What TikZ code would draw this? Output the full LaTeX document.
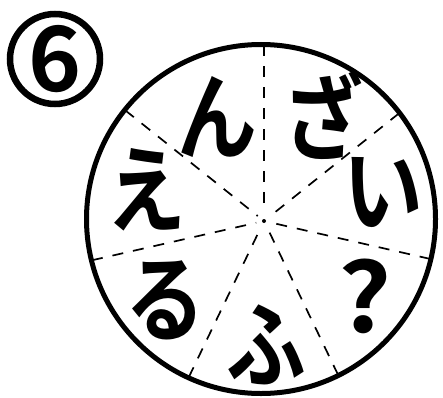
\documentclass[tikz,border=0pt]{standalone}
\usepackage{fontspec}
\usetikzlibrary{calc}
\newfontfamily\jpfont{Noto Sans CJK JP Bold}
\tikzset{
	kana/.style={font=\jpfont\fontsize{95}{95}\selectfont, inner sep=0pt, xscale=0.84},
	spoke/.style={line width=1.7pt, dash pattern=on 11pt off 10pt},
}

\begin{document}
\begin{tikzpicture}[x=1pt, y=1pt]
	\useasboundingbox (0,0) rectangle (443,397);
	
	% 编号
	\node[circle, draw, line width=6.5pt, minimum size=90pt, inner sep=0pt,
		font=\jpfont\fontsize{90}{90}\selectfont] (num) at (55,338) {6};
	
	% 圆心 O 与分割线中心 P
	\coordinate (O) at (261,178);
	\coordinate (P) at (264,176);
	
	% 七条分割线 (从圆周画向中心)
	\foreach \k in {0,...,6}{
		\pgfmathsetmacro{\ang}{90-\k*360/7}
		\pgfmathsetmacro{\proj}{(3*cos(\ang)-2*sin(\ang))/10}
		\pgfmathsetmacro{\len}{10*(-\proj+sqrt(\proj*\proj-0.13+302.76))}
		\draw[spoke] ($(P)+(\ang:\len)$) -- ($(P)+(\ang:8)$);
	}
	\fill (P) circle (2);
	
	% 外圆
	\draw[line width=5pt] (O) circle (174.5);
	
	% 文字
	\node[kana] (kn)  at (217,280) {ん};
	\node[kana] (kza) at (323,282) {ざ};
	\node[kana] (ki)  at (383,205) {い};
	\node[kana, xscale=1.3] (kq) at (365,101) {?};
	\node[kana] (kfu) at (266,52)  {ふ};
	\node[kana] (kru) at (165,97)  {る};
	\node[kana] (ke)  at (146,207) {え};
\end{tikzpicture}
\end{document}
